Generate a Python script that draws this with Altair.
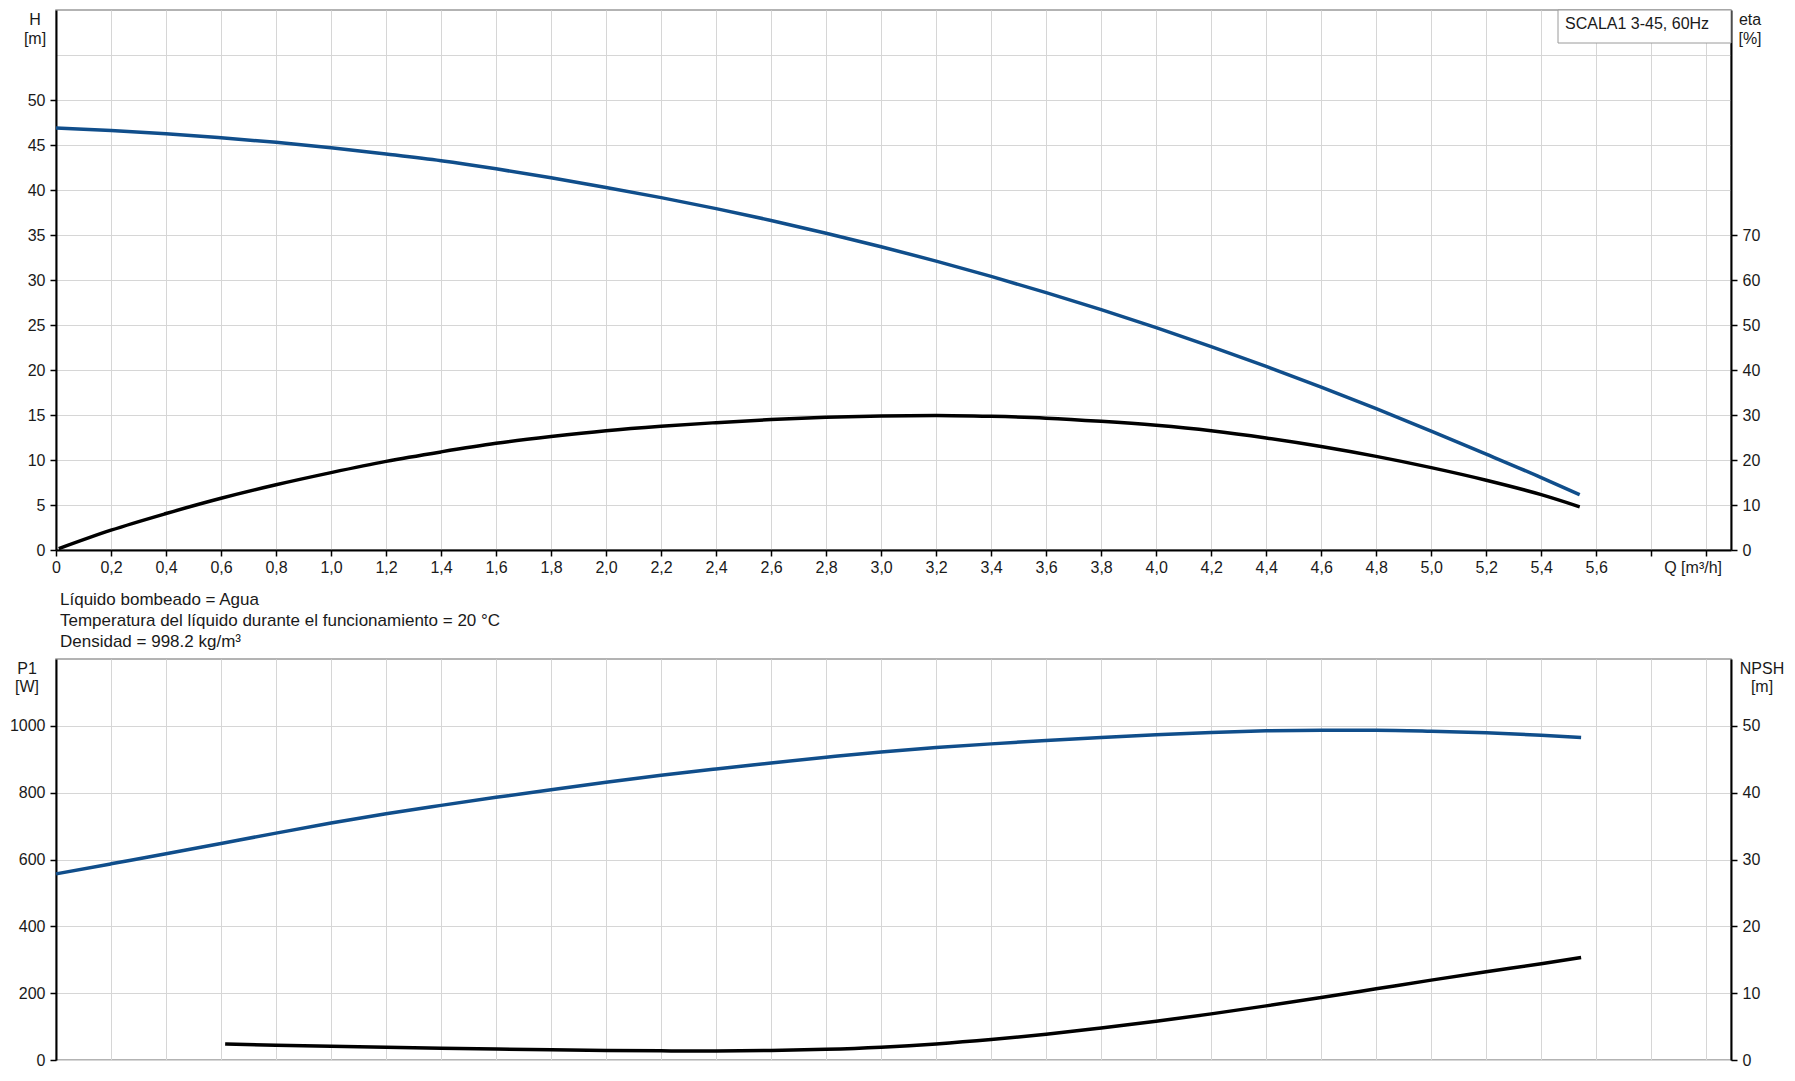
import altair as alt
import pandas as pd

# ---------------- data ----------------
Q_H = [0.0, 0.2, 0.4, 0.6, 0.8, 1.0, 1.2, 1.4, 1.6, 1.8, 2.0, 2.2, 2.4, 2.6, 2.8,
       3.0, 3.2, 3.4, 3.6, 3.8, 4.0, 4.2, 4.4, 4.6, 4.8, 5.0, 5.2, 5.4, 5.54]
H_M = [46.9, 46.6, 46.25, 45.8, 45.3, 44.7, 44.0, 43.25, 42.35, 41.35, 40.28, 39.15,
       37.93, 36.62, 35.2, 33.7, 32.1, 30.4, 28.6, 26.7, 24.7, 22.6, 20.4, 18.1, 15.7,
       13.2, 10.65, 8.05, 6.15]

Q_ETA = [0.01, 0.2, 0.4, 0.6, 0.8, 1.0, 1.2, 1.4, 1.6, 1.8, 2.0, 2.2, 2.4, 2.6, 2.8,
         3.0, 3.2, 3.4, 3.6, 3.8, 4.0, 4.2, 4.4, 4.6, 4.8, 5.0, 5.2, 5.4, 5.54]
ETA = [0.3, 4.4, 8.1, 11.5, 14.5, 17.2, 19.7, 21.8, 23.7, 25.2, 26.5, 27.5, 28.3, 29.0,
       29.5, 29.8, 29.9, 29.7, 29.3, 28.6, 27.7, 26.5, 24.9, 23.0, 20.8, 18.3, 15.5, 12.3, 9.6]

Q_P1 = [0.0, 0.2, 0.4, 0.6, 0.8, 1.0, 1.2, 1.4, 1.6, 1.8, 2.0, 2.2, 2.4, 2.6, 2.8,
        3.0, 3.2, 3.4, 3.6, 3.8, 4.0, 4.2, 4.4, 4.6, 4.8, 5.0, 5.2, 5.4, 5.545]
P1_W = [557, 587, 617, 648, 679, 709, 737, 762, 786, 809, 831, 852, 871, 889, 906,
        922, 935, 946, 956, 965, 973, 980, 985, 987, 987, 984, 979, 972, 965]

Q_NPSH = [0.615, 0.8, 1.0, 1.2, 1.4, 1.6, 1.8, 2.0, 2.2, 2.4, 2.6, 2.8, 3.0, 3.2,
          3.4, 3.6, 3.8, 4.0, 4.2, 4.4, 4.6, 4.8, 5.0, 5.2, 5.4, 5.545]
NPSH_M = [2.4, 2.22, 2.05, 1.9, 1.76, 1.63, 1.52, 1.43, 1.37, 1.35, 1.42, 1.6, 1.92,
          2.4, 3.05, 3.85, 4.8, 5.8, 6.9, 8.1, 9.35, 10.65, 11.95, 13.2, 14.4, 15.35]

X_TICKS = [0.0, 0.2, 0.4, 0.6, 0.8, 1.0, 1.2, 1.4, 1.6, 1.8, 2.0, 2.2, 2.4, 2.6, 2.8,
           3.0, 3.2, 3.4, 3.6, 3.8, 4.0, 4.2, 4.4, 4.6, 4.8, 5.0, 5.2, 5.4, 5.6, 5.8, 6.0]
H_TICKS = [0, 5, 10, 15, 20, 25, 30, 35, 40, 45, 50, 55]
ETA_TICKS = [0, 10, 20, 30, 40, 50, 60, 70]
P1_TICKS = [0, 200, 400, 600, 800, 1000]
NPSH_TICKS = [0, 10, 20, 30, 40, 50]

TITLE_BOX = "SCALA1 3-45, 60Hz"
X_TITLE = "Q [m³/h]"
NOTES = ["Líquido bombeado = Agua",
         "Temperatura del líquido durante el funcionamiento = 20 °C",
         "Densidad = 998.2 kg/m³"]

# ---------------- styling ----------------
FONT = "Liberation Sans"
BLUE = "#104e8b"
BLACK = "#000000"
TXT = "#1a1a1a"
W = 1675
H_TOP = 540
H_BOT = 401
XDOM = [0, 6.09]

x_lbl = ("datum.value == 0 ? '0' : (datum.value > 5.7 ? '' : "
         "replace(format(datum.value, '.1f'), '.', ','))")


def txt(s, x, y, align="center", size=16):
    return alt.Chart(pd.DataFrame({"t": [s]})).mark_text(
        align=align, baseline="middle", fontSize=size, font=FONT, color=TXT
    ).encode(text="t:N", x=alt.value(x), y=alt.value(y))


# ---------------- top panel ----------------
x_top = alt.X("Q:Q", scale=alt.Scale(domain=XDOM, nice=False, zero=False),
              axis=alt.Axis(values=X_TICKS, grid=True, labelExpr=x_lbl, title=None,
                            labelFlush=False, labelOverlap=False, labelPadding=3))

h_line = alt.Chart(pd.DataFrame({"Q": Q_H, "H": H_M})).mark_line(
    color=BLUE, strokeWidth=3.5, interpolate="monotone"
).encode(
    x=x_top,
    y=alt.Y("H:Q", scale=alt.Scale(domain=[0, 60], nice=False),
            axis=alt.Axis(values=H_TICKS, orient="left", grid=True, title=None,
                          labelExpr="datum.value > 52 ? '' : datum.label",
                          tickOpacity={"condition": {"test": "datum.value > 52", "value": 0},
                                       "value": 1})),
)

eta_line = alt.Chart(pd.DataFrame({"Q": Q_ETA, "eta": ETA})).mark_line(
    color=BLACK, strokeWidth=3.5, interpolate="monotone"
).encode(
    x=alt.X("Q:Q"),
    y=alt.Y("eta:Q", scale=alt.Scale(domain=[0, 120], nice=False),
            axis=alt.Axis(values=ETA_TICKS, orient="right", grid=False, title=None)),
)

box = alt.Chart(pd.DataFrame({"t": [TITLE_BOX]})).mark_rect(
    fill="white", stroke="#9a9a9a", strokeWidth=1
).encode(x=alt.value(1502), x2=alt.value(W), y=alt.value(0), y2=alt.value(33))

top = alt.layer(
    h_line, eta_line, box,
    txt(TITLE_BOX, 1509, 14, align="left"),
    txt("H", -21, 9.5), txt("[m]", -21, 28.5),
    txt("eta", W + 19, 9.5), txt("[%]", W + 19, 28.5),
    txt(X_TITLE, 1666, 557.5, align="right"),
    txt(NOTES[0], 4, 590, align="left", size=17),
    txt(NOTES[1], 4, 611, align="left", size=17),
    txt(NOTES[2], 4, 632, align="left", size=17),
).resolve_scale(y="independent").properties(width=W, height=H_TOP)

# ---------------- bottom panel ----------------
x_bot = alt.X("Q:Q", scale=alt.Scale(domain=XDOM, nice=False, zero=False),
              axis=alt.Axis(values=X_TICKS, grid=True, labels=False, ticks=False,
                            domain=False, title=None))

p1_line = alt.Chart(pd.DataFrame({"Q": Q_P1, "P1": P1_W})).mark_line(
    color=BLUE, strokeWidth=3.5, interpolate="monotone"
).encode(
    x=x_bot,
    y=alt.Y("P1:Q", scale=alt.Scale(domain=[0, 1200], nice=False),
            axis=alt.Axis(values=P1_TICKS, orient="left", grid=True, title=None,
                          format="d")),
)

npsh_line = alt.Chart(pd.DataFrame({"Q": Q_NPSH, "NPSH": NPSH_M})).mark_line(
    color=BLACK, strokeWidth=3.5, interpolate="monotone"
).encode(
    x=alt.X("Q:Q"),
    y=alt.Y("NPSH:Q", scale=alt.Scale(domain=[0, 60], nice=False),
            axis=alt.Axis(values=NPSH_TICKS, orient="right", grid=False, title=None)),
)

bottom = alt.layer(
    p1_line, npsh_line,
    txt("P1", -29, 9.5), txt("[W]", -29, 28),
    txt("NPSH", W + 31, 9.5), txt("[m]", W + 31, 28),
).resolve_scale(y="independent").properties(width=W, height=H_BOT)

chart = alt.vconcat(top, bottom, spacing=109, bounds="flush").properties(
    padding={"left": 0, "top": 0, "right": 0, "bottom": 0}
).configure_view(
    stroke="#9a9a9a", strokeWidth=1.5
).configure_axis(
    labelFont=FONT, labelFontSize=16, labelColor=TXT,
    gridColor="#d6d6d6", gridWidth=1,
    domainColor=BLACK, domainWidth=2,
    tickColor=BLACK, tickWidth=1.5, tickSize=6, labelPadding=5,
).configure_text(font=FONT)

chart.save("out.html", embed_options={"renderer": "svg", "actions": False})
